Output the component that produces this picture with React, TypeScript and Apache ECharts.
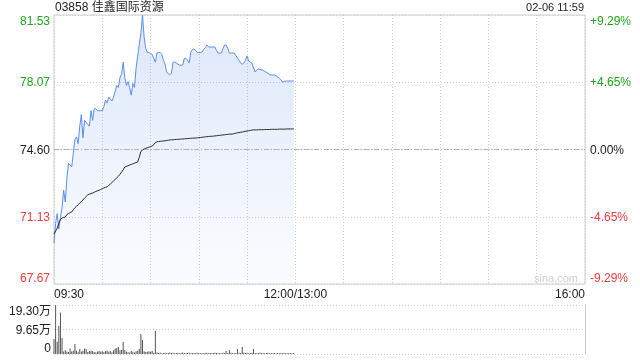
import React, { useEffect, useRef } from "react";
import * as echarts from "echarts";

const title = "03858 佳鑫国际资源";
const stamp = "02-06 11:59";
const prevClose = 74.6;
const priceMin = 67.67;
const priceMax = 81.53;
const leftTicks = [67.67, 71.13, 74.6, 78.07, 81.53];
const leftTickLabels = ["67.67", "71.13", "74.60", "78.07", "81.53"];
const rightTickLabels = ["-9.29%", "-4.65%", "0.00%", "+4.65%", "+9.29%"];
const volTickLabels = ["0", "9.65万", "19.30万"];
const volMax = 19.3;
const timeLabels: Record<number, string> = { 0: "09:30", 150: "12:00/13:00", 330: "16:00" };

// minute-by-minute values, 09:30 .. 11:59
const prices = [
  69.78, 70.8, 71.3, 70.5, 71.1, 71.6, 72.5, 71.9, 73.1, 73.9,
  73.8, 73.7, 74.4, 75.1, 75.25, 74.9, 75.8, 76.4, 75.2, 76.1,
  76.0, 75.9, 75.8, 76.6, 76.1, 76.7, 76.7, 76.6, 76.6, 76.6,
  76.6, 76.8, 77.15, 77.0, 77.3, 77.2, 77.1, 77.3, 77.6, 77.9,
  77.8, 78.3, 78.5, 79.1, 78.3, 77.9, 78.1, 77.8, 77.4, 78.0,
  77.8, 78.8, 79.4, 80.0, 80.6, 81.53, 80.4, 79.8, 79.6, 79.6,
  79.55, 79.5, 79.3, 79.1, 79.57, 79.6, 79.6, 79.5, 79.2, 79.0,
  78.6, 78.5, 78.44, 78.54, 79.1, 79.1, 79.06, 79.0, 78.95, 78.95,
  78.95, 79.3, 79.3, 79.2, 79.06, 79.6, 79.75, 79.78, 79.7, 79.6,
  79.6, 79.6, 79.62, 79.75, 79.85, 79.98, 79.9, 79.88, 79.88, 79.88,
  79.88, 79.7, 79.57, 79.57, 79.57, 79.8, 79.98, 79.98, 79.8, 79.57,
  79.57, 79.57, 79.57, 79.45, 79.31, 79.2, 79.05, 79.0, 79.06, 79.2,
  79.42, 79.16, 79.1, 79.06, 78.8, 78.59, 78.7, 78.75, 78.72, 78.7,
  78.68, 78.62, 78.58, 78.54, 78.44, 78.44, 78.44, 78.44, 78.4, 78.33,
  78.28, 78.2, 78.08, 78.1, 78.13, 78.13, 78.13, 78.13, 78.13, 78.13,
];

const avgPrices = [
  70.25, 70.4, 70.55, 70.8, 71.0, 71.07, 71.1, 71.12, 71.25, 71.3,
  71.35, 71.38, 71.5, 71.6, 71.68, 71.75, 71.84, 71.92, 72.0, 72.1,
  72.18, 72.26, 72.3, 72.33, 72.36, 72.4, 72.44, 72.47, 72.5, 72.54,
  72.58, 72.62, 72.65, 72.68, 72.75, 72.82, 72.9, 72.98, 73.06, 73.14,
  73.22, 73.32, 73.44, 73.55, 73.7, 73.73, 73.76, 73.8, 73.83, 73.86,
  73.9, 73.93, 73.96, 74.2, 74.5, 74.57, 74.63, 74.66, 74.69, 74.72,
  74.75, 74.78, 74.85, 74.95, 75.0, 75.01, 75.02, 75.03, 75.04, 75.05,
  75.06, 75.08, 75.09, 75.1, 75.1, 75.11, 75.12, 75.12, 75.13, 75.14,
  75.14, 75.15, 75.16, 75.16, 75.17, 75.18, 75.18, 75.19, 75.19, 75.2,
  75.21, 75.22, 75.23, 75.24, 75.25, 75.26, 75.27, 75.28, 75.28, 75.29,
  75.3, 75.31, 75.32, 75.33, 75.34, 75.35, 75.36, 75.37, 75.38, 75.39,
  75.39, 75.4, 75.42, 75.44, 75.46, 75.47, 75.49, 75.5, 75.52, 75.54,
  75.55, 75.57, 75.58, 75.6, 75.61, 75.61, 75.61, 75.62, 75.62, 75.62,
  75.62, 75.63, 75.63, 75.63, 75.63, 75.64, 75.64, 75.64, 75.64, 75.64,
  75.65, 75.65, 75.65, 75.65, 75.65, 75.66, 75.66, 75.66, 75.66, 75.66,
];

// volume in 万
const volumes = [
  5.9, 19.3, 4.8, 11.0, 16.3, 6.3, 1.0, 1.5, 1.0, 0.8,
  2.2, 1.0, 1.3, 3.9, 1.3, 0.7, 2.0, 1.0, 1.3, 2.2,
  2.0, 0.8, 1.2, 1.3, 1.2, 0.8, 0.6, 1.0, 1.2, 0.9,
  1.1, 0.8, 1.2, 1.3, 0.9, 1.2, 0.7, 1.5, 2.2, 2.4,
  2.8, 1.5, 1.6, 4.7, 1.6, 0.9, 0.7, 0.6, 1.2, 0.9,
  0.6, 1.1, 1.3, 2.0, 7.9, 5.5, 1.1, 0.8, 0.9, 1.1,
  0.9, 1.2, 0.5, 9.1, 0.6, 0.4, 0.5, 0.3, 0.4, 0.5,
  0.3, 0.4, 0.6, 0.4, 0.5, 0.3, 0.4, 0.5, 0.3, 0.4,
  0.6, 0.4, 0.3, 0.4, 0.5, 0.3, 0.4, 0.4, 0.3, 0.5,
  0.4, 0.3, 0.4, 0.3, 0.4, 0.5, 0.3, 0.4, 0.3, 0.4,
  0.5, 0.4, 0.3, 0.4, 0.3, 0.5, 0.4, 1.2, 0.4, 1.5,
  0.5, 0.4, 0.3, 0.4, 2.0, 0.5, 0.4, 2.8, 0.6, 0.4,
  0.5, 0.3, 0.4, 0.5, 2.0, 0.4, 0.3, 0.4, 0.5, 0.3,
  0.4, 0.3, 0.4, 0.5, 0.3, 0.4, 0.3, 0.4, 0.3, 0.4,
  0.3, 0.4, 0.3, 0.4, 0.3, 0.3, 0.4, 0.3, 0.3, 0.4,
];

const FONT = "Arial, 'Liberation Sans', 'Noto Sans CJK SC', sans-serif";
const GREEN = "#1ea51e";
const RED = "#f03c3c";
const TEXT = "#222";

function nearestIndex(arr: number[], v: number) {
  let best = 0;
  for (let i = 1; i < arr.length; i++) if (Math.abs(arr[i] - v) < Math.abs(arr[best] - v)) best = i;
  return best;
}

export default function App() {
  const ref = useRef<HTMLDivElement>(null);
  useEffect(() => {
    if (!ref.current) return;
    const chart = echarts.init(ref.current, null, { renderer: "svg" });
    const gridLeft = 54;
    const gridWidth = 531;
    chart.setOption({
      animation: false,
      textStyle: { fontFamily: FONT },
      grid: [
        { left: gridLeft, top: 15, width: gridWidth, height: 269, show: true, borderColor: "#cccccc", borderWidth: 1, backgroundColor: "transparent" },
        { left: gridLeft, top: 305, width: gridWidth, height: 49 },
      ],
      xAxis: [
        {
          type: "value", gridIndex: 0, min: 0, max: 330, interval: 30,
          axisLine: { show: false }, axisTick: { show: false },
          splitLine: { show: true, lineStyle: { color: "#cfcfcf", type: [1, 2], width: 1 } },
          axisLabel: {
            color: TEXT, fontSize: 12, margin: 4, fontFamily: FONT,
            showMinLabel: true, showMaxLabel: true,
            alignMinLabel: "left", alignMaxLabel: "right",
            formatter: (v: number) => timeLabels[Math.round(v)] ?? "",
          },
        },
        {
          type: "value", gridIndex: 1, min: 0, max: 330, interval: 30,
          axisLine: { show: false }, axisTick: { show: false }, splitLine: { show: false },
          axisLabel: { show: false },
        },
      ],
      yAxis: [
        {
          type: "value", gridIndex: 0, min: priceMin, max: priceMax, position: "left",
          axisLine: { show: false }, axisTick: { show: false }, splitLine: { show: false },
          axisLabel: {
            customValues: leftTicks,
            fontSize: 12, margin: 4, fontFamily: FONT,
            verticalAlignMinLabel: "bottom", verticalAlignMaxLabel: "top",
            formatter: (v: number) => leftTickLabels[nearestIndex(leftTicks, v)],
            color: (v: any) => {
              const n = Number(v);
              return n > prevClose + 0.01 ? GREEN : n < prevClose - 0.01 ? RED : TEXT;
            },
          },
        },
        {
          type: "value", gridIndex: 0, min: -9.29, max: 9.29, interval: 4.645, position: "right",
          axisLine: { show: false }, axisTick: { show: false },
          splitLine: { show: true, lineStyle: { color: "#cfcfcf", type: [1, 2], width: 1 } },
          axisLabel: {
            fontSize: 12, margin: 5, fontFamily: FONT,
            verticalAlignMinLabel: "bottom", verticalAlignMaxLabel: "top",
            formatter: (v: number) => rightTickLabels[Math.round(v / 4.645) + 2],
            color: (v: any) => {
              const n = Number(v);
              return n > 0.01 ? GREEN : n < -0.01 ? RED : TEXT;
            },
          },
        },
        {
          type: "value", gridIndex: 1, min: 0, max: volMax, interval: volMax / 2, position: "left",
          axisLine: { show: false }, axisTick: { show: false },
          splitLine: { show: true, lineStyle: { color: "#cfcfcf", type: [1, 2], width: 1 } },
          axisLabel: {
            color: TEXT, fontSize: 12, margin: 3, fontFamily: FONT,
            verticalAlignMinLabel: "bottom", verticalAlignMaxLabel: "top",
            formatter: (v: number) => volTickLabels[Math.round(v / (volMax / 2))],
          },
        },
        {
          type: "value", gridIndex: 1, min: 0, max: volMax, position: "right",
          axisLine: { show: true, lineStyle: { color: "#cccccc", width: 1 } },
          axisTick: { show: false }, splitLine: { show: false }, axisLabel: { show: false },
        },
      ],
      series: [
        {
          type: "line", name: "price", xAxisIndex: 0, yAxisIndex: 0,
          data: prices.map((p, i) => [i, p]),
          showSymbol: false, symbol: "none",
          lineStyle: { color: "#5a8ef0", width: 1 },
          areaStyle: {
            color: new echarts.graphic.LinearGradient(0, 0, 0, 1, [
              { offset: 0, color: "rgba(70,125,230,0.26)" },
              { offset: 1, color: "rgba(70,125,230,0.03)" },
            ]),
          },
          markLine: {
            silent: true, symbol: "none", label: { show: false },
            lineStyle: { color: "#b0b0b0", type: [5, 2, 1, 2], width: 1 },
            data: [{ yAxis: prevClose }],
          },
          z: 3,
        },
        {
          type: "line", name: "avg", xAxisIndex: 0, yAxisIndex: 0,
          data: avgPrices.map((p, i) => [i, p]),
          showSymbol: false, symbol: "none",
          lineStyle: { color: "#2b2b2b", width: 1 },
          z: 4,
        },
        {
          type: "bar", name: "vol", xAxisIndex: 1, yAxisIndex: 2,
          data: volumes.map((v, i) => [i, v]),
          barWidth: 1,
          itemStyle: { color: "#555555" },
        },
      ],
      graphic: [
        { type: "text", left: 55, top: 1, style: { text: title, fontSize: 12, fill: TEXT, fontFamily: FONT } },
        { type: "text", right: 56, top: 1, style: { text: stamp, fontSize: 11, fill: TEXT, fontFamily: FONT } },
        { type: "text", right: 62, top: 272, style: { text: "sina.com", fontSize: 11, fill: "#d0d0d0", fontFamily: FONT } },
      ],
    });
    return () => chart.dispose();
  }, []);
  return <div ref={ref} style={{ position: "fixed", left: 0, top: 0, width: 640, height: 360 }} />;
}
